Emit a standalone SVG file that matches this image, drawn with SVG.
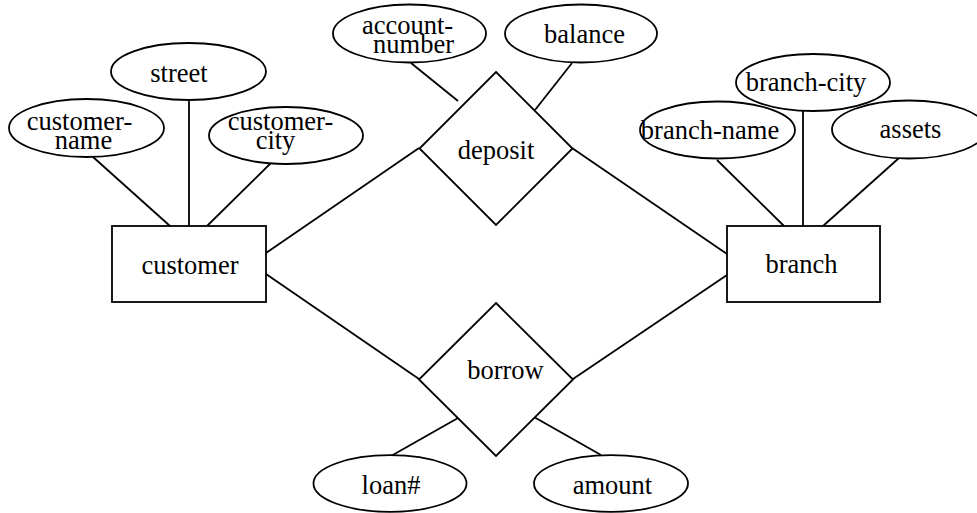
<svg xmlns="http://www.w3.org/2000/svg" width="977" height="513" viewBox="0 0 977 513">
<style>
.s{fill:#fff;stroke:#000;stroke-width:1.8}
.l{stroke:#000;stroke-width:1.8;fill:none}
text{font-family:"Liberation Serif","Times New Roman",serif;font-size:26.5px;fill:#000;text-anchor:middle}
</style>
<rect width="977" height="513" fill="#fff"/>
<g id="connectors">
<line class="l" x1="83" y1="148" x2="170" y2="226"/>
<line class="l" x1="189" y1="100" x2="189" y2="226"/>
<line class="l" x1="276" y1="158" x2="207" y2="226"/>
<line class="l" x1="411" y1="63" x2="458" y2="101"/>
<line class="l" x1="572" y1="63" x2="535" y2="110"/>
<line class="l" x1="266" y1="253" x2="419" y2="148"/>
<line class="l" x1="572" y1="148" x2="727" y2="254"/>
<line class="l" x1="266" y1="274" x2="419" y2="379"/>
<line class="l" x1="573" y1="379" x2="727" y2="275"/>
<line class="l" x1="717" y1="160" x2="784" y2="226"/>
<line class="l" x1="803" y1="111" x2="803" y2="226"/>
<line class="l" x1="899" y1="158" x2="823" y2="226"/>
<line class="l" x1="391" y1="456" x2="458" y2="418"/>
<line class="l" x1="534" y1="417" x2="601" y2="455"/>
</g>
<g id="customer-name"><ellipse class="s" cx="86.5" cy="128" rx="77.5" ry="29"/><text x="79.5" y="130">customer-</text><text x="83.5" y="149">name</text></g>
<g id="street"><ellipse class="s" cx="188.5" cy="71.5" rx="77.5" ry="28.5"/><text x="179" y="82">street</text></g>
<g id="customer-city"><ellipse class="s" cx="286" cy="135.5" rx="77" ry="28.5"/><text x="280.5" y="130">customer-</text><text x="275.5" y="149">city</text></g>
<g id="account-number"><ellipse class="s" cx="409.5" cy="33.5" rx="76.5" ry="29"/><text x="407.5" y="33.5">account-</text><text x="413.5" y="53">number</text></g>
<g id="balance"><ellipse class="s" cx="581" cy="33.5" rx="76" ry="29"/><text x="584.5" y="42.5">balance</text></g>
<g id="branch-city"><ellipse class="s" cx="813" cy="82.5" rx="77" ry="28.5"/><text x="806" y="90.5">branch-city</text></g>
<g id="branch-name"><ellipse class="s" cx="717.5" cy="130" rx="77.5" ry="28.5"/><text x="710" y="138.5">branch-name</text></g>
<g id="assets"><ellipse class="s" cx="909" cy="129.5" rx="77" ry="29"/><text x="910.5" y="138">assets</text></g>
<g id="customer"><rect class="s" x="112" y="226" width="154" height="76"/><text x="190" y="273.5">customer</text></g>
<g id="branch"><rect class="s" x="727" y="226" width="153" height="76"/><text x="801.5" y="273">branch</text></g>
<g id="deposit"><polygon class="s" points="496,72 572.5,148.5 496,225 419.5,148.5"/><text x="496" y="158.5">deposit</text></g>
<g id="borrow"><polygon class="s" points="496,303 573,379.5 496,456 419,379.5"/><text x="505.5" y="378.5">borrow</text></g>
<g id="loan"><ellipse class="s" cx="390" cy="483.5" rx="76.5" ry="28.3"/><text x="391" y="494">loan#</text></g>
<g id="amount"><ellipse class="s" cx="611" cy="483.5" rx="77" ry="28.3"/><text x="612.5" y="494">amount</text></g>
</svg>
